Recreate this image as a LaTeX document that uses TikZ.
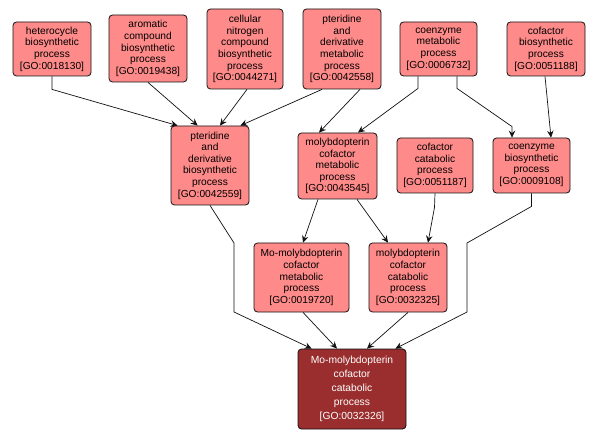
\documentclass[tikz,border=0pt]{standalone}
\usepackage{fontspec}
\setmainfont{Liberation Sans}
\usetikzlibrary{arrows.meta,calc}
\definecolor{lightgo}{HTML}{FF8A8A}
\definecolor{darkgo}{HTML}{9A2E2E}
\definecolor{edgec}{HTML}{111111}
\begin{document}
\begin{tikzpicture}[x=1pt,y=-1pt,
  gobox/.style={draw=edgec, line width=0.8pt, rounded corners=3.5pt, fill=lightgo, align=center,
    inner sep=0pt, font=\fontsize{10.2}{11.6}\selectfont, text=black},
  gofocus/.style={gobox, fill=darkgo, text=white, font=\fontsize{10.3}{14}\selectfont},
  edge/.style={draw=edgec, line width=0.7pt, -{Stealth[length=7pt,width=6.5pt,inset=2.5pt]}}]
\useasboundingbox (0,0) rectangle (599,438);
\fill[white] (0,0) rectangle (599,438);

\node[gobox, minimum width=78pt, minimum height=54pt] (het) at (52,49) {heterocycle\\biosynthetic\\process\\{[GO:0018130]}};
\node[gobox, minimum width=78pt, minimum height=67pt] (aro) at (148,48.5) {aromatic\\compound\\biosynthetic\\process\\{[GO:0019438]}};
\node[gobox, minimum width=76pt, minimum height=80pt] (cel) at (245,49) {cellular\\nitrogen\\compound\\biosynthetic\\process\\{[GO:0044271]}};
\node[gobox, minimum width=78pt, minimum height=80pt] (ptm) at (342,49) {pteridine\\and\\derivative\\metabolic\\process\\{[GO:0042558]}};
\node[gobox, minimum width=77pt, minimum height=54pt] (com) at (438.5,49) {coenzyme\\metabolic\\process\\{[GO:0006732]}};
\node[gobox, minimum width=78pt, minimum height=54pt] (cfb) at (546,49) {cofactor\\biosynthetic\\process\\{[GO:0051188]}};
\node[gobox, minimum width=78pt, minimum height=79pt] (ptb) at (210,165.5) {pteridine\\and\\derivative\\biosynthetic\\process\\{[GO:0042559]}};
\node[gobox, minimum width=79pt, minimum height=66pt] (mcm) at (337.5,166) {molybdopterin\\cofactor\\metabolic\\process\\{[GO:0043545]}};
\node[gobox, minimum width=76pt, minimum height=55pt] (cfc) at (435,165.5) {cofactor\\catabolic\\process\\{[GO:0051187]}};
\node[gobox, minimum width=77pt, minimum height=55pt] (ceb) at (531.5,165.5) {coenzyme\\biosynthetic\\process\\{[GO:0009108]}};
\node[gobox, minimum width=95pt, minimum height=69pt] (mmm) at (301.5,277.5) {Mo-molybdopterin\\cofactor\\metabolic\\process\\{[GO:0019720]}};
\node[gobox, minimum width=78pt, minimum height=69pt] (mcc) at (408,277.5) {molybdopterin\\cofactor\\catabolic\\process\\{[GO:0032325]}};
\node[gofocus, minimum width=108pt, minimum height=80pt] (bot) at (352,389) {Mo-molybdopterin\\cofactor\\catabolic\\process\\{[GO:0032326]}};

\draw[edge] (het.south) -- ++(0,13) -- ($(ptb.north west)+(7,0)$);
\draw[edge] (aro.south) -- ($(ptb.north west)+(27,0)$);
\draw[edge] ($(cel.south)+(2,0)$) -- ($(ptb.north)+(10,0)$);
\draw[edge] ($(ptm.south)+(-20,0)$) -- ($(ptb.north east)+(-9,0)$);
\draw[edge] ($(ptm.south)+(18,0)$) -- ($(mcm.north)+(-18.5,0)$);
\draw[edge] ($(com.south)+(-20.5,0)$) -- ++(0,12) -- ($(mcm.north)+(20.5,0)$);
\draw[edge] ($(com.south)+(18.5,0)$) -- ++(0,12) -- ($(ceb.north)+(-19.5,-11)$) -- ($(ceb.north)+(-19.5,0)$);
\draw[edge] ($(cfb.south)+(-1,0)$) -- ($(ceb.north)+(19.5,0)$);
\draw[edge] (ptb.south) -- (234,243) -- (234,312) -- ($(bot.north west)+(14,0)$);
\draw[edge] ($(mcm.south)+(-19.5,0)$) -- ($(mmm.north)+(1.5,0)$);
\draw[edge] ($(mcm.south)+(19.5,0)$) -- ($(mcc.north)+(-20,0)$);
\draw[edge] (cfc.south) -- ++(-0.5,14) -- ($(mcc.north)+(20,0)$);
\draw[edge] (ceb.south) -- ++(0,13) -- (467,243) -- (467,312) -- ($(bot.north east)+(-11,0)$);
\draw[edge] ($(mmm.south)+(1.5,0)$) -- ($(bot.north)+(-15,0)$);
\draw[edge] (mcc.south) -- ($(bot.north)+(15,0)$);
\end{tikzpicture}
\end{document}
